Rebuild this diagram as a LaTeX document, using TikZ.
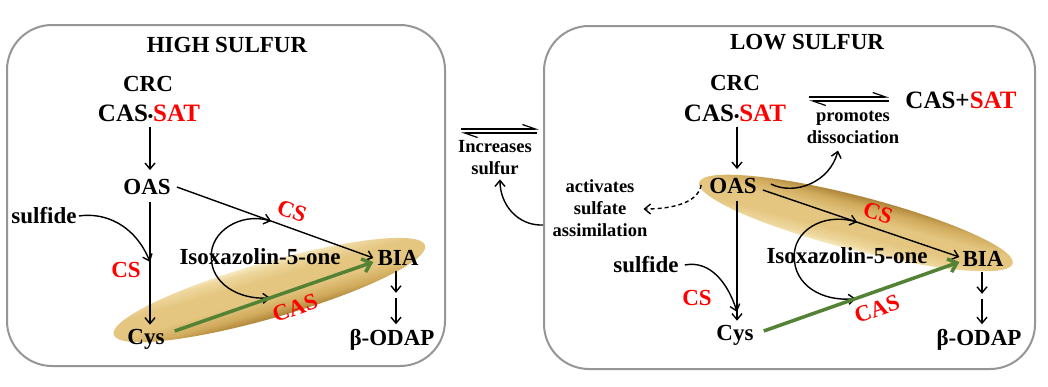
\documentclass[tikz,border=0pt]{standalone}
\usepackage{fontspec}
\setmainfont{Liberation Serif}
\usetikzlibrary{arrows.meta,calc,fadings}
\definecolor{panelgray}{RGB}{150,150,150}
\definecolor{arrgreen}{RGB}{84,130,53}
\definecolor{goldA}{RGB}{247,235,196}
\definecolor{goldAB}{RGB}{238,215,158}
\definecolor{goldB}{RGB}{228,198,128}
\definecolor{goldBC}{RGB}{208,170,92}
\definecolor{goldC}{RGB}{172,132,56}
\definecolor{txtred}{RGB}{255,0,0}
\pgfdeclareverticalshading{golddown}{100bp}{color(0bp)=(goldC); color(25bp)=(goldC); color(33bp)=(goldBC); color(45bp)=(goldB); color(60bp)=(goldB); color(70bp)=(goldAB); color(75bp)=(goldA); color(100bp)=(goldA)}
\pgfdeclareverticalshading{goldup}{100bp}{color(0bp)=(goldA); color(25bp)=(goldA); color(30bp)=(goldAB); color(40bp)=(goldB); color(55bp)=(goldB); color(67bp)=(goldBC); color(75bp)=(goldC); color(100bp)=(goldC)}
\pgfdeclareradialshading{softedgeshade}{\pgfpointorigin}{color(0bp)=(pgftransparent!0); color(42bp)=(pgftransparent!0); color(50bp)=(pgftransparent!100)}
\pgfdeclarefading{softedge}{\pgfuseshading{softedgeshade}}
\newcommand{\cdotbul}{{\fontsize{15}{15}\selectfont •}}
\begin{document}
\begin{tikzpicture}[x=1pt,y=-1pt,
  panel/.style={draw=panelgray, line width=2pt, rounded corners=45pt, inner sep=0pt},
  big/.style={font=\bfseries\fontsize{23}{26}\selectfont, inner sep=2pt},
  bigger/.style={font=\bfseries\fontsize{25}{28}\selectfont, inner sep=2pt},
  small/.style={font=\bfseries\fontsize{18.5}{22}\selectfont, align=center, inner sep=2pt},
  enz/.style={big, text=txtred},
  arr/.style={line width=1.4pt, -{Straight Barb[length=6pt,width=10pt]}},
  garr/.style={draw=arrgreen, line width=3.5pt, -{Straight Barb[length=8pt,width=14pt]}},
  harp/.style={line width=1.2pt, -{Straight Barb[harpoon,length=13pt,width=9pt]}},
]
\fill[white] (0,0) rectangle (1048,386);
\useasboundingbox (0,0) rectangle (1048,386);

% panels
\node[panel, minimum width=438pt, minimum height=341pt] (panelL) at (226,195.5) {};
\node[panel, minimum width=491pt, minimum height=343pt] (panelR) at (789.5,197.5) {};

% golden ellipses
\begin{scope}[transform canvas={rotate around={16:(269.5,290)}}]
  \shade[path fading=softedge, shading=golddown] (269.5,290) ellipse (162 and 28);
\end{scope}
\begin{scope}[transform canvas={rotate around={-14.5:(856,223)}}]
  \shade[path fading=softedge, shading=goldup] (856,223) ellipse (162 and 27);
\end{scope}

% ---------- left panel texts
\node[big] (titleL) at (227,45) {HIGH SULFUR};
\node[big] (crcL) at (148,84) {CRC};
\node[bigger] (casL) at (149,113) {CAS\cdotbul\textcolor{txtred}{SAT}};
\node[big] (oasL) at (147,187) {OAS};
\node[big] (sulfL) at (44,216) {sulfide};
\node[enz] (csL1) at (126,270) {CS};
\node[big] (cysL) at (146,339) {Cys};
\node[big] (isoL) at (260,257) {Isoxazolin-5-one};
\node[big] (biaL) at (398,258) {BIA};
\node[big] (odapL) at (392,340) {β-ODAP};
\node[enz, rotate=-20] (csL2) at (292,211) {CS};
\node[enz, rotate=19] (casL2) at (295,308) {CAS};

% ---------- left panel arrows
\draw[arr] ($(casL.south)+(1,3)$) -- ($(oasL.north)+(3,-7)$);
\coordinate (jL) at ($(oasL.south)+(3,65)$);
\draw[arr] ($(oasL.south)+(3,5)$) -- ($(cysL.north)+(4,-2)$);
\draw[arr] (sulfL.east) .. controls (105,212) and (135,225) .. (jL);
\coordinate (l1sL) at ($(oasL.east)+(4,0)$);
\coordinate (l1eL) at ($(biaL.west)+(-2,0)$);
\draw[arr] (l1sL) -- (l1eL);
\coordinate (gsL) at ($(cysL.east)+(8,-8)$);
\coordinate (geL) at ($(biaL.west)+(-2,4)$);
\coordinate (t1L) at ($(l1sL)!0.48!(l1eL)$);
\coordinate (t2L) at ($(gsL)!0.48!(geL)$);
\coordinate (isoCL) at ($(isoL.west)+(34,0)$);
\draw[arr] (isoCL) .. controls (210,232) and (240,212) .. (t1L);
\draw[arr] (isoCL) .. controls (211,283) and (238,300) .. (t2L);
\draw[garr] (gsL) -- (geL);
\draw[arr] ($(biaL.south)+(-2,3)$) -- ($(biaL.south)+(-2,25)$);
\draw[arr] ($(biaL.south)+(-2,30)$) -- ($(odapL.north)+(4,-3)$);

% ---------- middle
\node[small] (incM) at (495,158) {Increases\\sulfur};
\draw[harp] ($(panelL.east)+(15,-66.5)$) -- ($(panelR.west)+(-4,-68.5)$);
\draw[harp] ($(panelR.west)+(-6,-64.5)$) -- ($(panelL.east)+(15,-62.5)$);
\draw[arr] ($(panelR.west)+(0,27.5)$) .. controls (518,226) and (500,205) .. ($(incM.south)+(5,2)$);

% ---------- right panel texts
\node[big] (titleR) at (807,42) {LOW SULFUR};
\node[big] (crcR) at (735,83) {CRC};
\node[bigger] (casR) at (735,113) {CAS\cdotbul\textcolor{txtred}{SAT}};
\node[bigger] (freeR) at (961,100) {CAS+\textcolor{txtred}{SAT}};
\node[small] (promR) at (853,127) {promotes\\dissociation};
\node[big] (oasR) at (733,186) {OAS};
\node[small] (actR) at (600,208) {activates\\sulfate\\assimilation};
\node[big] (sulfR) at (646,265) {sulfide};
\node[enz] (csR1) at (697,298) {CS};
\node[big] (cysR) at (735,335) {Cys};
\node[big] (isoR) at (847,256) {Isoxazolin-5-one};
\node[big] (biaR) at (983,259) {BIA};
\node[big] (odapR) at (979,340) {β-ODAP};
\node[enz, rotate=-19] (csR2) at (878,213) {CS};
\node[enz, rotate=19] (casR2) at (877,309) {CAS};

% ---------- right panel arrows
\draw[harp] ($(casR.east)+(21,-16)$) -- ($(freeR.west)+(-14,-3)$);
\draw[harp] ($(freeR.west)+(-14,1)$) -- ($(casR.east)+(21,-12)$);
\draw[arr] ($(casR.south)+(2,3)$) -- ($(oasR.north)+(4,-7)$);
\coordinate (jR) at ($(oasR.south)+(4,116)$);
\draw[arr] ($(oasR.south)+(4,5)$) -- ($(cysR.north)+(2,-2)$);
\draw[arr] ($(sulfR.east)+(4,0)$) .. controls (710,260) and (728,283) .. (jR);
\draw[arr] ($(oasR.east)+(12,-2)$) .. controls (795,196) and (830,182) .. ($(promR.south)+(-15,5)$);
\draw[arr, dash pattern=on 4pt off 3pt] ($(oasR.west)+(-6,-1)$) .. controls (698,203) and (672,209) .. ($(actR.east)+(-6,1)$);
\coordinate (l1sR) at ($(oasR.east)+(4,4)$);
\coordinate (l1eR) at ($(biaR.west)+(-1,-2)$);
\draw[arr] (l1sR) -- (l1eR);
\coordinate (gsR) at ($(cysR.east)+(8,-4)$);
\coordinate (geR) at ($(biaR.west)+(-1,3)$);
\coordinate (t1R) at ($(l1sR)!0.48!(l1eR)$);
\coordinate (t2R) at ($(gsR)!0.47!(geR)$);
\coordinate (isoCR) at ($(isoR.west)+(30,1)$);
\draw[arr] (isoCR) .. controls (793,232) and (822,212) .. (t1R);
\draw[arr] (isoCR) .. controls (794,285) and (822,302) .. (t2R);
\draw[garr] (gsR) -- (geR);
\draw[arr] ($(biaR.south)+(-1,3)$) -- ($(biaR.south)+(-1,25)$);
\draw[arr] ($(biaR.south)+(-1,30)$) -- ($(odapR.north)+(3,-3)$);
\end{tikzpicture}
\end{document}
